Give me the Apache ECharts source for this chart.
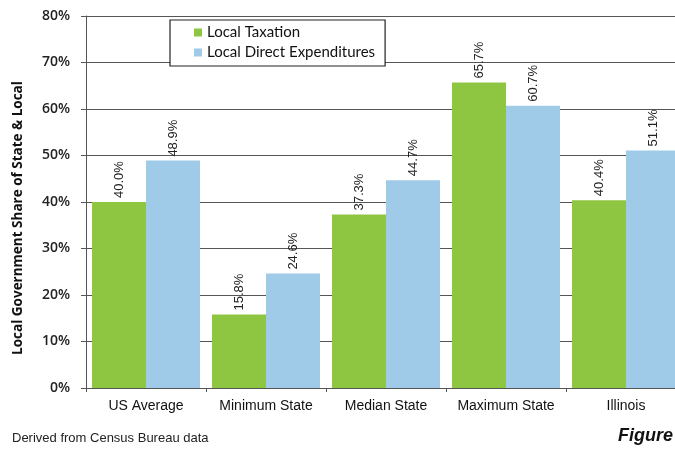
<!DOCTYPE html>
<html><head><meta charset="utf-8">
<script src="https://cdn.jsdelivr.net/npm/echarts@6/dist/echarts.min.js"></script>
<style>html,body{margin:0;padding:0;background:#fff;overflow:hidden;width:675px;height:452px}#c{width:700px;height:452px}</style>
</head><body><div id="c"></div>
<script>
const categories = ['US Average', 'Minimum State', 'Median State', 'Maximum State', 'Illinois'];
const localTaxation = [40.0, 15.8, 37.3, 65.7, 40.4];
const localDirectExpenditures = [48.9, 24.6, 44.7, 60.7, 51.1];
const seriesNames = ['Local Taxation', 'Local Direct Expenditures'];

const chart = echarts.init(document.getElementById('c'));
const labelCfg = {
  show: true, position: 'top', rotate: 90, align: 'left', verticalAlign: 'middle',
  distance: 4, fontFamily: 'Liberation Sans Narrow, Arial Narrow, sans-serif',
  fontSize: 13, color: '#222', formatter: p => p.value.toFixed(1) + '%'
};
chart.setOption({
  animation: false,
  grid: { left: 86, top: 16, width: 600, height: 372, containLabel: false },
  legend: {
    data: seriesNames, orient: 'vertical', left: 170, top: 20,
    padding: [5, 10, 6, 24], itemGap: 5,
    borderColor: '#222', borderWidth: 1.2, backgroundColor: '#fff',
    itemWidth: 8, itemHeight: 8, icon: 'rect',
    textStyle: { fontFamily: 'Lato, sans-serif', fontSize: 15, color: '#111' }
  },
  xAxis: {
    type: 'category', data: categories,
    axisLine: { lineStyle: { color: '#555' } },
    axisTick: { show: true, length: 4, lineStyle: { color: '#555' } },
    axisLabel: { interval: 0, fontFamily: 'Liberation Sans Narrow, Arial Narrow, sans-serif', fontSize: 14, color: '#111', margin: 11 }
  },
  yAxis: {
    type: 'value', min: 0, max: 80, interval: 10,
    axisLine: { show: true, lineStyle: { color: '#555' } },
    axisTick: { show: true, length: 5, lineStyle: { color: '#555' } },
    axisLabel: { formatter: '{value}%', fontFamily: 'Open Sans, sans-serif', fontSize: 14, fontWeight: 600, color: '#222', margin: 16 },
    splitLine: { show: true, lineStyle: { color: '#555', width: 1 } }
  },
  series: [
    { name: seriesNames[0], type: 'bar', data: localTaxation, barGap: '0%', barCategoryGap: '10%',
      itemStyle: { color: '#8fc641' }, label: labelCfg },
    { name: seriesNames[1], type: 'bar', data: localDirectExpenditures, barGap: '0%', barCategoryGap: '10%',
      itemStyle: { color: '#9fcbe8' }, label: labelCfg }
  ],
  graphic: [
    { type: 'text', x: 18, y: 218, rotation: Math.PI / 2,
      style: { text: 'Local Government Share of State & Local', font: 'bold 13.5px Open Sans, sans-serif', fill: '#111', align: 'center', verticalAlign: 'middle' } },
    { type: 'text', left: 12, top: 432, style: { text: 'Derived from Census Bureau data', font: '13px Liberation Sans Narrow, Arial Narrow, sans-serif', fill: '#222' } },
    { type: 'text', left: 618, top: 427, style: { text: 'Figure', font: 'bold italic 18px Liberation Sans, Arial, sans-serif', fill: '#111' } }
  ]
});
</script></body></html>
